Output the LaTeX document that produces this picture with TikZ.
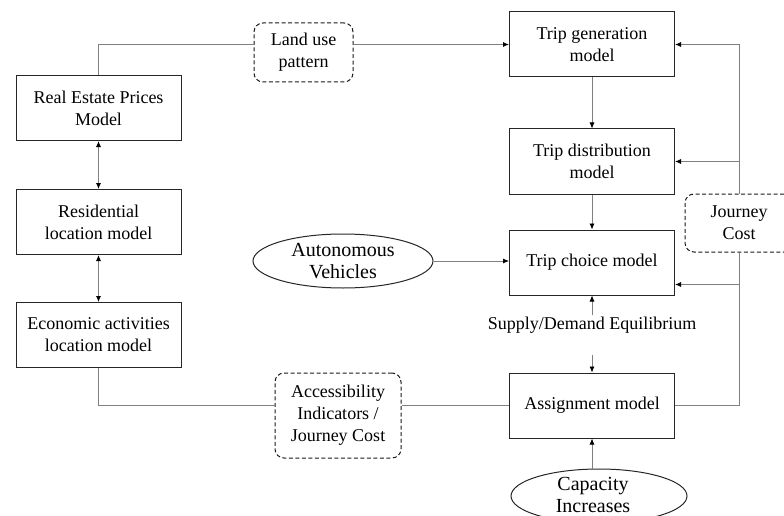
\documentclass[tikz,border=0pt]{standalone}
\usepackage{fontspec}
\setmainfont{Liberation Serif}
\usetikzlibrary{positioning,arrows.meta,shapes.geometric}

\begin{document}
\begin{tikzpicture}[x=1pt, y=-1pt, every node/.style={font=\fontsize{18}{22}\selectfont},
  m/.style={draw=black!85, line width=1pt, align=center, minimum width=165pt, minimum height=65pt, inner sep=2pt},
  d/.style={draw=black!90, line width=1pt, dash pattern=on 4pt off 2.5pt, rounded corners=9pt, align=center, inner sep=0pt},
  ell/.style={draw=black!85, line width=1pt, ellipse, inner sep=0pt},
  big/.style={align=center, font=\fontsize{20}{22}\selectfont, inner sep=0pt},
  c/.style={draw=black!50, line width=0.8pt},
  a/.style={c, -{Latex[black, length=6pt, width=5pt]}},
  aa/.style={c, {Latex[black, length=6pt, width=5pt]}-{Latex[black, length=6pt, width=5pt]}}]
\useasboundingbox (0,0) rectangle (784,516);
% transport models
\node[m] (tg) at (592,44.5) {Trip generation\\model};
\node[m, below=51pt of tg] (td) {Trip distribution\\model};
\node[m, below=35pt of td] (tc) {Trip choice model};
\node[m, below=77pt of tc] (as) {Assignment model};
% land use models
\node[m] (re) at (98.5,108) {Real Estate Prices\\Model};
\node[m, below=48pt of re] (rl) {Residential\\location model};
\node[m, below=47pt of rl] (ea) {Economic activities\\location model};
% dashed boxes
\node[d, minimum width=99pt, minimum height=59pt] (lu) at (303.5,52.5) {Land use\\pattern};
\node[d, minimum width=126pt, minimum height=85pt] (ac) at (338,415.5) {Accessibility\\Indicators /\\Journey Cost};
\node[d, minimum width=108pt, minimum height=58pt] (jc) at (739,223) {Journey\\Cost};
% inputs
\node[ell, minimum width=180pt, minimum height=54pt] (av) at (343,261) {};
\node[big] (avt) at (av) {Autonomous\\Vehicles};
\node[ell, minimum width=176pt, minimum height=54pt] (ci) at (599,496) {};
\node[big] (cit) at (593,495) {Capacity\\Increases};
\node[inner sep=1pt, text depth=25pt, anchor=base] (sd) at (592,329) {Supply/Demand Equilibrium};
\coordinate (tcr) at ([yshift=-22pt]tc.east);
% connectors
\draw[c] (re.north) |- (lu.west |- tg.west);
\draw[a] (lu.east |- tg.west) -- (tg.west);
\draw[a] (tg) -- (td);
\draw[a] (td) -- (tc);
\draw[a] (av.east) -- (av.east -| tc.west);
\draw[aa] (re) -- (rl);
\draw[aa] (rl) -- (ea);
\draw[a] (sd.north) -- (tc.south);
\draw[a] (sd.south) -- (as.north);
\draw[a] (ci.north -| as.south) -- (as.south);
\draw[c] (ea.south) |- (ac.west |- as.west);
\draw[c] (ac.east |- as.west) -- (as.west);
\draw[c] (as.east) -| (jc.south);
\draw[a] (jc.north) |- (tg.east);
\draw[a] (jc.north |- td.east) -- (td.east);
\draw[a] (jc.south |- tcr) -- (tcr);
\end{tikzpicture}
\end{document}
